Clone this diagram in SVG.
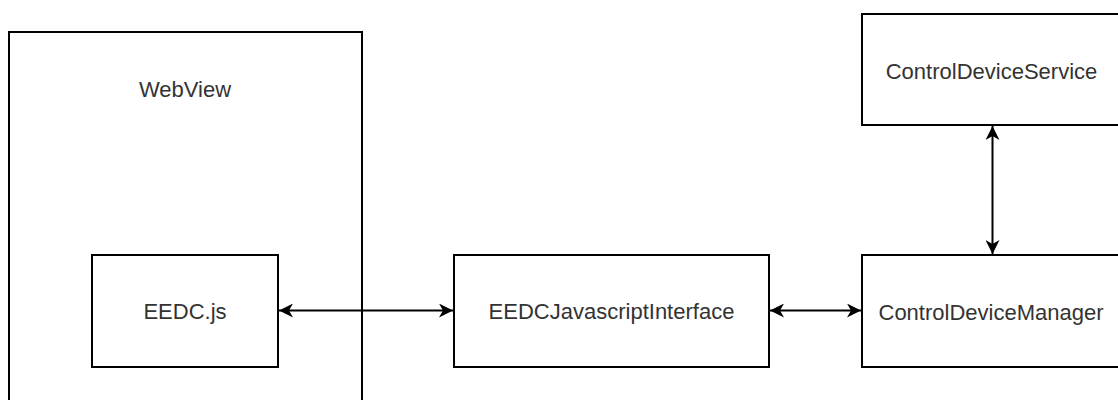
<svg xmlns="http://www.w3.org/2000/svg" width="1118" height="400" viewBox="0 0 1118 400">
  <style>
    .box { fill: #ffffff; stroke: #000000; stroke-width: 2; }
    .lbl { font-family: "Liberation Sans", Arial, sans-serif; font-size: 22px; fill: #333333; text-anchor: middle; }
    .edge { fill: none; stroke: #000000; stroke-width: 2; }
  </style>
  <defs>
    <marker id="arr" viewBox="0 0 14 14" refX="14" refY="7" markerWidth="14" markerHeight="14" markerUnits="userSpaceOnUse" orient="auto-start-reverse">
      <path d="M14,7 L0,0 L4,7 L0,14 Z" fill="#000000"/>
    </marker>
  </defs>
  <rect width="1118" height="400" fill="#ffffff"/>
  <g id="webview">
    <rect class="box" x="9" y="32" width="353" height="400"/>
    <text class="lbl" x="185" y="97">WebView</text>
  </g>
  <g id="eedcjs">
    <rect class="box" x="92" y="255" width="186" height="112"/>
    <text class="lbl" x="185" y="319">EEDC.js</text>
  </g>
  <g id="eedcinterface">
    <rect class="box" x="454" y="255" width="315" height="112"/>
    <text class="lbl" x="611.5" y="319">EEDCJavascriptInterface</text>
  </g>
  <g id="controlservice">
    <rect class="box" x="862" y="14" width="300" height="111"/>
    <text class="lbl" x="991.5" y="79">ControlDeviceService</text>
  </g>
  <g id="controlmanager">
    <rect class="box" x="862" y="255" width="300" height="112"/>
    <text class="lbl" x="991" y="320">ControlDeviceManager</text>
  </g>
  <g id="connectors">
    <path class="edge" d="M279,310.5 L453,310.5" marker-start="url(#arr)" marker-end="url(#arr)"/>
    <path class="edge" d="M770,310.5 L861,310.5" marker-start="url(#arr)" marker-end="url(#arr)"/>
    <path class="edge" d="M992.5,126 L992.5,254" marker-start="url(#arr)" marker-end="url(#arr)"/>
  </g>
</svg>
